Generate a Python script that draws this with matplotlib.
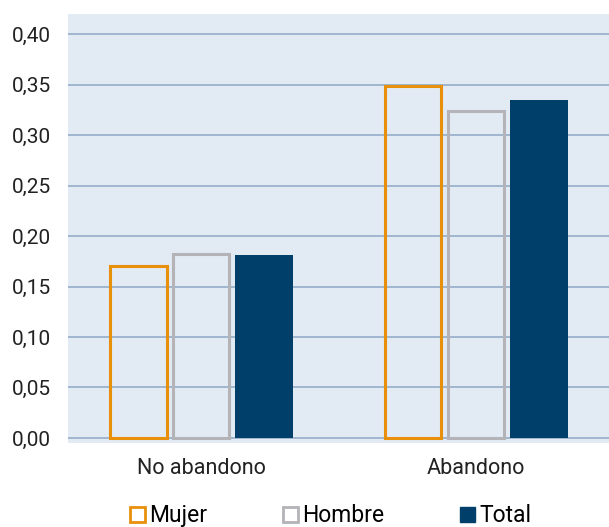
import matplotlib
matplotlib.use('Agg')
import matplotlib.pyplot as plt
from matplotlib.patches import Patch
import numpy as np

categories = ['No abandono', 'Abandono']
series = ['Mujer', 'Hombre', 'Total']
mujer = [0.170, 0.349]
hombre = [0.182, 0.324]
total = [0.181, 0.335]
yticks = [0.00, 0.05, 0.10, 0.15, 0.20, 0.25, 0.30, 0.35, 0.40]

orange = '#E8900C'
grey = '#B3B3B8'
navy = '#003F6A'
bg = '#E2EAF3'
grid = '#93ADC8'

plt.rcParams['font.family'] = ['Roboto', 'DejaVu Sans']

fig = plt.figure(figsize=(6.09, 5.27), dpi=100)
ax = fig.add_axes([68 / 609, 1 - 443 / 527, 541 / 609, 429 / 527])
ax.set_facecolor(bg)

x = np.arange(len(categories))
step = 0.229
width = 0.205

ax.bar(x - step, mujer, width, facecolor='none', edgecolor=orange, linewidth=2.2, zorder=3)
ax.bar(x, hombre, width, facecolor='none', edgecolor=grey, linewidth=2.2, zorder=3)
ax.bar(x + step, total, width + 0.008, color=navy, zorder=3)

ax.set_xlim(-0.485, 1.484)
ax.set_ylim(-0.005, 0.42)
ax.set_yticks(yticks)
ax.set_yticklabels([f'{v:.2f}'.replace('.', ',') for v in yticks])
ax.set_xticks(x)
ax.set_xticklabels(categories)
ax.yaxis.grid(True, color=grid, linewidth=1.2, zorder=0)
ax.set_axisbelow(True)
ax.tick_params(axis='both', length=0, colors='#222222')
ax.tick_params(axis='y', pad=12, labelsize=15)
ax.tick_params(axis='x', pad=11, labelsize=15.5)
for s in ax.spines.values():
    s.set_visible(False)

handles = [
    Patch(facecolor='none', edgecolor=orange, linewidth=2),
    Patch(facecolor='none', edgecolor=grey, linewidth=2),
    Patch(facecolor=navy, edgecolor=navy),
]
fig.legend(handles, series, loc='lower center', bbox_to_anchor=(0.543, -0.04),
           ncol=3, frameon=False, fontsize=16.5, handlelength=0.65, handleheight=0.65,
           handletextpad=0.2, columnspacing=3.3)

fig.savefig('out.png', dpi=100)
